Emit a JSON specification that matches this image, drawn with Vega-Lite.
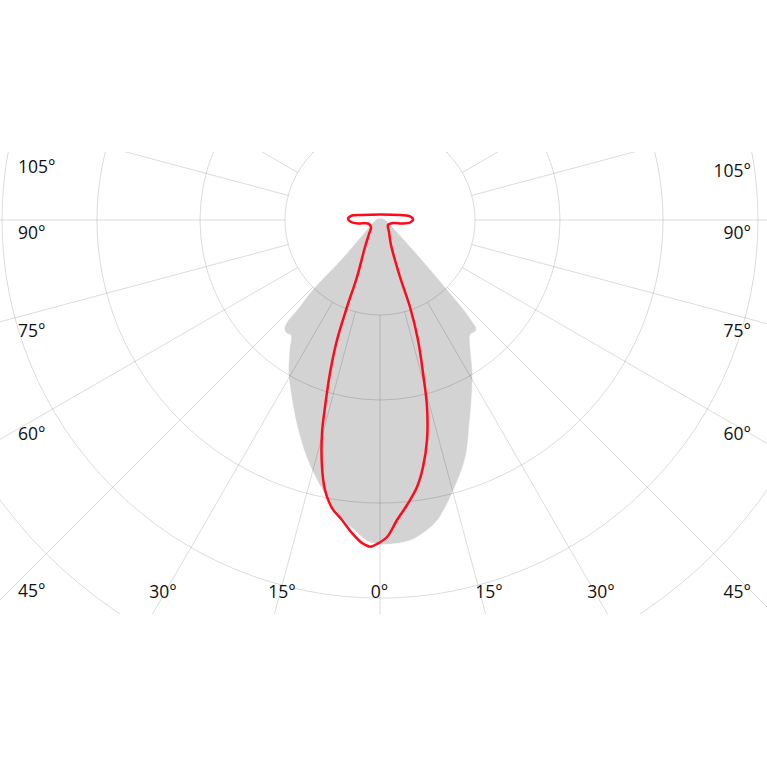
{
  "$schema": "https://vega.github.io/schema/vega-lite/v6.json",
  "width": 767,
  "height": 462,
  "autosize": "none",
  "padding": {"left": 0, "right": 0, "top": 152, "bottom": 153},
  "background": "white",
  "config": {"view": {"stroke": null}},
  "datasets": {
    "beam": [
      {"i": 1, "x": -3, "y": 1}, {"i": 2, "x": 3, "y": 1}, {"i": 3, "x": 8, "y": -3},
      {"i": 4, "x": 38, "y": -36}, {"i": 5, "x": 67, "y": -70}, {"i": 6, "x": 85, "y": -92},
      {"i": 7, "x": 92, "y": -102}, {"i": 8, "x": 96, "y": -109}, {"i": 9, "x": 94, "y": -112},
      {"i": 10, "x": 90, "y": -114}, {"i": 11, "x": 90, "y": -130}, {"i": 12, "x": 92, "y": -153},
      {"i": 13, "x": 91, "y": -180}, {"i": 14, "x": 89, "y": -203}, {"i": 15, "x": 85, "y": -237},
      {"i": 16, "x": 73, "y": -270}, {"i": 17, "x": 57, "y": -300}, {"i": 18, "x": 44, "y": -312},
      {"i": 19, "x": 30, "y": -320}, {"i": 20, "x": 15, "y": -323}, {"i": 21, "x": 2, "y": -324},
      {"i": 22, "x": -12, "y": -321}, {"i": 23, "x": -23, "y": -312}, {"i": 24, "x": -34, "y": -302},
      {"i": 25, "x": -42, "y": -293}, {"i": 26, "x": -57, "y": -270}, {"i": 27, "x": -73, "y": -237},
      {"i": 28, "x": -83, "y": -203}, {"i": 29, "x": -89, "y": -170}, {"i": 30, "x": -91, "y": -153},
      {"i": 31, "x": -90, "y": -130}, {"i": 32, "x": -89, "y": -115}, {"i": 33, "x": -93, "y": -113},
      {"i": 34, "x": -95, "y": -109}, {"i": 35, "x": -93, "y": -103}, {"i": 36, "x": -80, "y": -87},
      {"i": 37, "x": -67, "y": -70}, {"i": 38, "x": -35, "y": -36}, {"i": 39, "x": -8, "y": -4}
    ],
    "curve": [
      {"i": 1, "x": -10, "y": -327}, {"i": 2, "x": -18, "y": -323}, {"i": 3, "x": -28, "y": -313},
      {"i": 4, "x": -38, "y": -300}, {"i": 5, "x": -48, "y": -288}, {"i": 6, "x": -55, "y": -270},
      {"i": 7, "x": -58, "y": -247}, {"i": 8, "x": -58, "y": -213}, {"i": 9, "x": -55, "y": -187},
      {"i": 10, "x": -50, "y": -153}, {"i": 11, "x": -43, "y": -120}, {"i": 12, "x": -33, "y": -87},
      {"i": 13, "x": -23, "y": -57}, {"i": 14, "x": -15, "y": -27}, {"i": 15, "x": -11, "y": -14},
      {"i": 16, "x": -9, "y": -7}, {"i": 17, "x": -12, "y": -3.5}, {"i": 18, "x": -22, "y": -3.5},
      {"i": 19, "x": -29, "y": -2}, {"i": 20, "x": -32, "y": 1}, {"i": 21, "x": -29, "y": 4},
      {"i": 22, "x": -18, "y": 5}, {"i": 23, "x": 0, "y": 5.5}, {"i": 24, "x": 20, "y": 5},
      {"i": 25, "x": 29, "y": 4}, {"i": 26, "x": 33, "y": 1}, {"i": 27, "x": 30, "y": -2.5},
      {"i": 28, "x": 22, "y": -3.5}, {"i": 29, "x": 13, "y": -3}, {"i": 30, "x": 8, "y": -5},
      {"i": 31, "x": 9, "y": -12}, {"i": 32, "x": 11, "y": -25}, {"i": 33, "x": 20, "y": -57},
      {"i": 34, "x": 30, "y": -87}, {"i": 35, "x": 38, "y": -120}, {"i": 36, "x": 43, "y": -153},
      {"i": 37, "x": 47, "y": -187}, {"i": 38, "x": 47, "y": -220}, {"i": 39, "x": 43, "y": -247},
      {"i": 40, "x": 37, "y": -267}, {"i": 41, "x": 27, "y": -285}, {"i": 42, "x": 17, "y": -300},
      {"i": 43, "x": 7, "y": -317}, {"i": 44, "x": -3, "y": -324}, {"i": 45, "x": -10, "y": -327}
    ],
    "rings": [
      {"cx": 0, "cy": 0, "r": 95}, {"cx": 0, "cy": 0, "r": 180}, {"cx": 0, "cy": 0, "r": 283},
      {"cx": 0, "cy": 0, "r": 378}, {"cx": 0, "cy": 0, "r": 472}
    ],
    "spokes": [
      {"a": 0, "x": 0, "y": -95, "x2": 0, "y2": -700},
      {"a": 15, "x": 24.59, "y": -91.76, "x2": 181.17, "y2": -676.15},
      {"a": 30, "x": 47.5, "y": -82.27, "x2": 350, "y2": -606.22},
      {"a": 45, "x": 67.18, "y": -67.18, "x2": 494.97, "y2": -494.97},
      {"a": 60, "x": 82.27, "y": -47.5, "x2": 606.22, "y2": -350},
      {"a": 75, "x": 91.76, "y": -24.59, "x2": 676.15, "y2": -181.17},
      {"a": 90, "x": 95, "y": 0, "x2": 700, "y2": 0},
      {"a": 105, "x": 91.76, "y": 24.59, "x2": 676.15, "y2": 181.17},
      {"a": 120, "x": 82.27, "y": 47.5, "x2": 606.22, "y2": 350},
      {"a": 135, "x": 67.18, "y": 67.18, "x2": 494.97, "y2": 494.97},
      {"a": 150, "x": 47.5, "y": 82.27, "x2": 350, "y2": 606.22},
      {"a": 165, "x": 24.59, "y": 91.76, "x2": 181.17, "y2": 676.15},
      {"a": -15, "x": -24.59, "y": -91.76, "x2": -181.17, "y2": -676.15},
      {"a": -30, "x": -47.5, "y": -82.27, "x2": -350, "y2": -606.22},
      {"a": -45, "x": -67.18, "y": -67.18, "x2": -494.97, "y2": -494.97},
      {"a": -60, "x": -82.27, "y": -47.5, "x2": -606.22, "y2": -350},
      {"a": -75, "x": -91.76, "y": -24.59, "x2": -676.15, "y2": -181.17},
      {"a": -90, "x": -95, "y": 0, "x2": -700, "y2": 0},
      {"a": -105, "x": -91.76, "y": 24.59, "x2": -676.15, "y2": 181.17},
      {"a": -120, "x": -82.27, "y": 47.5, "x2": -606.22, "y2": 350},
      {"a": -135, "x": -67.18, "y": 67.18, "x2": -494.97, "y2": 494.97},
      {"a": -150, "x": -47.5, "y": 82.27, "x2": -350, "y2": 606.22},
      {"a": -165, "x": -24.59, "y": 91.76, "x2": -181.17, "y2": 676.15}
    ],
    "labels": [
      {"side": "left", "label": "105°", "x": -362, "y": 47},
      {"side": "left", "label": "90°", "x": -362, "y": -19},
      {"side": "left", "label": "75°", "x": -362, "y": -117},
      {"side": "left", "label": "60°", "x": -362, "y": -220},
      {"side": "left", "label": "45°", "x": -362, "y": -377},
      {"side": "right", "label": "105°", "x": 371, "y": 43},
      {"side": "right", "label": "90°", "x": 371, "y": -19},
      {"side": "right", "label": "75°", "x": 371, "y": -117},
      {"side": "right", "label": "60°", "x": 371, "y": -220},
      {"side": "right", "label": "45°", "x": 371, "y": -378},
      {"side": "bottom", "label": "30°", "x": -217, "y": -378},
      {"side": "bottom", "label": "15°", "x": -98, "y": -378},
      {"side": "bottom", "label": "0°", "x": -0.5, "y": -378},
      {"side": "bottom", "label": "15°", "x": 109, "y": -378},
      {"side": "bottom", "label": "30°", "x": 221, "y": -378}
    ]
  },
  "resolve": {"scale": {"x": "shared", "y": "shared"}},
  "layer": [
    {
      "data": {"name": "beam"},
      "mark": {"type": "line", "fill": "#d3d3d3", "stroke": "#d3d3d3", "strokeWidth": 0.5, "interpolate": "catmull-rom", "clip": true},
      "encoding": {
        "x": {"field": "x", "type": "quantitative", "scale": {"domain": [-380, 387], "nice": false, "zero": false}, "axis": null},
        "y": {"field": "y", "type": "quantitative", "scale": {"domain": [-394, 68], "nice": false, "zero": false}, "axis": null},
        "order": {"field": "i", "type": "quantitative"}
      }
    },
    {
      "data": {"name": "rings"},
      "mark": {"type": "point", "shape": "circle", "filled": false, "stroke": "#000000", "strokeOpacity": 0.14, "strokeWidth": 1, "opacity": 1, "clip": true},
      "encoding": {
        "x": {"field": "cx", "type": "quantitative"},
        "y": {"field": "cy", "type": "quantitative"},
        "size": {"field": "r", "type": "quantitative", "scale": {"type": "pow", "exponent": 2, "domain": [0, 500], "range": [0, 1000000], "zero": true}, "legend": null}
      }
    },
    {
      "data": {"name": "spokes"},
      "mark": {"type": "rule", "stroke": "#000000", "strokeOpacity": 0.14, "strokeWidth": 1, "clip": true},
      "encoding": {
        "x": {"field": "x", "type": "quantitative"},
        "y": {"field": "y", "type": "quantitative"},
        "x2": {"field": "x2"},
        "y2": {"field": "y2"}
      }
    },
    {
      "data": {"name": "curve"},
      "mark": {"type": "line", "stroke": "#ff0a1a", "strokeWidth": 2.5, "strokeJoin": "round", "interpolate": "catmull-rom", "clip": true},
      "encoding": {
        "x": {"field": "x", "type": "quantitative"},
        "y": {"field": "y", "type": "quantitative"},
        "order": {"field": "i", "type": "quantitative"}
      }
    },
    {
      "data": {"name": "labels"},
      "transform": [{"filter": "datum.side === 'left'"}],
      "mark": {"type": "text", "align": "left", "baseline": "alphabetic", "font": "Open Sans", "fontSize": 17.5, "color": "#111111"},
      "encoding": {
        "x": {"field": "x", "type": "quantitative"},
        "y": {"field": "y", "type": "quantitative"},
        "text": {"field": "label"}
      }
    },
    {
      "data": {"name": "labels"},
      "transform": [{"filter": "datum.side === 'right'"}],
      "mark": {"type": "text", "align": "right", "baseline": "alphabetic", "font": "Open Sans", "fontSize": 17.5, "color": "#111111"},
      "encoding": {
        "x": {"field": "x", "type": "quantitative"},
        "y": {"field": "y", "type": "quantitative"},
        "text": {"field": "label"}
      }
    },
    {
      "data": {"name": "labels"},
      "transform": [{"filter": "datum.side === 'bottom'"}],
      "mark": {"type": "text", "align": "center", "baseline": "alphabetic", "font": "Open Sans", "fontSize": 17.5, "color": "#111111"},
      "encoding": {
        "x": {"field": "x", "type": "quantitative"},
        "y": {"field": "y", "type": "quantitative"},
        "text": {"field": "label"}
      }
    }
  ]
}
